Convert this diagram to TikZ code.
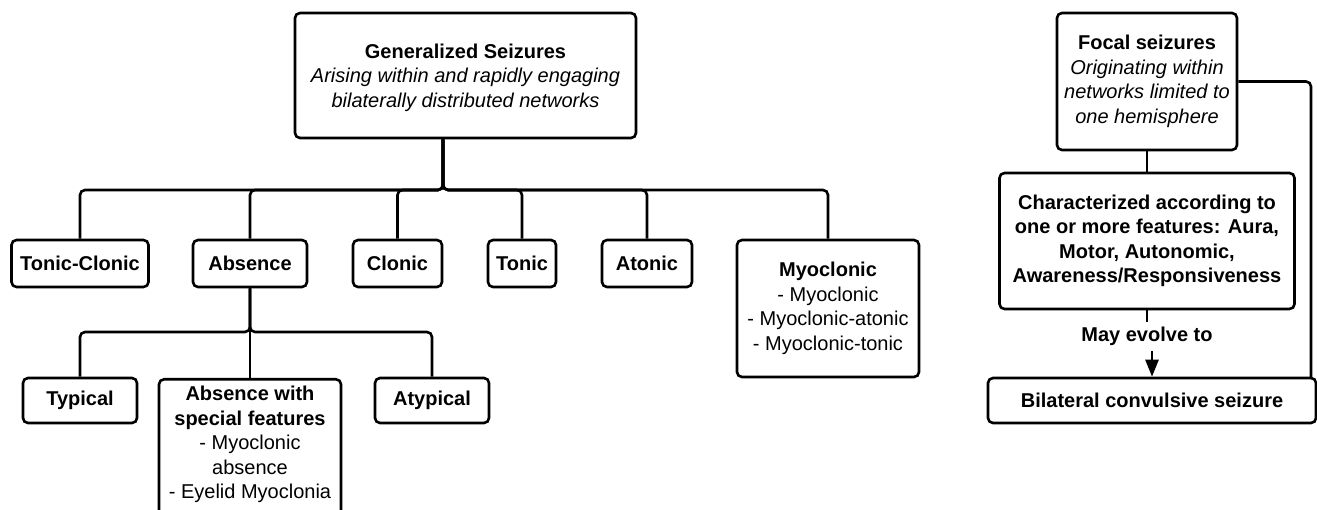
\documentclass[tikz,border=0pt]{standalone}
\usepackage{fontspec}
\setmainfont{Liberation Sans}
\usetikzlibrary{arrows.meta}
\begin{document}
\begin{tikzpicture}[x=1pt,y=-1pt,
  box/.style={draw, line width=2.6pt, rounded corners=5pt, align=center, inner sep=0pt,
    font=\fontsize{20}{24.5}\selectfont},
  conn/.style={line width=2.6pt, rounded corners=5pt},
  lbl/.style={font=\fontsize{20}{24.5}\selectfont\bfseries, inner xsep=2pt, inner ysep=5pt}]
\useasboundingbox (0,0) rectangle (1317,510);
\clip (0,0) rectangle (1317,510);
% generalized
\node[box, minimum width=341pt, minimum height=125pt] (gen) at (465.5,75.5)
  {\rule{0pt}{19pt}\textbf{Generalized Seizures}\\\textit{Arising within and rapidly engaging}\\\textit{bilaterally distributed networks}};
\node[box, minimum width=137pt, minimum height=47pt] (tc) at (80,263.5) {\textbf{Tonic-Clonic}};
\node[box, minimum width=114pt, minimum height=47pt] (abs) at (250,263.5) {\textbf{Absence}};
\node[box, minimum width=89pt, minimum height=47pt] (clo) at (397.5,263.5) {\textbf{Clonic}};
\node[box, minimum width=68pt, minimum height=47pt] (ton) at (522,263.5) {\textbf{Tonic}};
\node[box, minimum width=90pt, minimum height=47pt] (ato) at (647,263.5) {\textbf{Atonic}};
\node[box, minimum width=182pt, minimum height=137pt] (myo) at (828,308.5)
  {\textbf{Myoclonic}\\- Myoclonic\\- Myoclonic-atonic\\- Myoclonic-tonic};
\node[box, minimum width=114pt, minimum height=45pt] (typ) at (80,400.5) {\textbf{Typical}};
\node[box, minimum width=182pt, anchor=north, inner ysep=7pt] (spec) at (250,378)
  {\textbf{Absence with}\\\textbf{special features}\\- Myoclonic\\absence\\- Eyelid Myoclonia\\~\\~};
\node[box, minimum width=114pt, minimum height=45pt] (aty) at (432,400.5) {\textbf{Atypical}};
% connectors
\coordinate (gj) at (443,190);
\foreach \c in {tc,abs,clo,ton,ato,myo}
  \draw[conn] (gen.south -| gj) -- (gj) -| (\c.north);
\coordinate (aj) at (250,332);
\foreach \c in {typ,aty}
  \draw[conn] (abs.south) -- (aj) -| (\c.north);
\draw[conn] (abs.south) -- (spec.north);
% focal
\node[box, minimum width=180pt, minimum height=137pt] (focal) at (1147,81.5)
  {\textbf{Focal seizures}\\\textit{Originating within}\\\textit{networks limited to}\\\textit{one hemisphere}};
\node[box, minimum width=295pt, minimum height=136pt] (char) at (1147,241)
  {\textbf{Characterized according to}\\\textbf{one or more features: Aura,}\\\textbf{Motor, Autonomic,}\\\textbf{Awareness/Responsiveness}};
\node[lbl] (may) at (1147,336.5) {May evolve to};
\node[box, minimum width=328pt, minimum height=45pt] (bil) at (1152,400.5) {\textbf{Bilateral convulsive seizure}};
\coordinate (rc) at (1311,378);
\draw[conn] (focal.south) -- (char.north);
\draw[conn] (char.south) -- (may.north);
\draw[conn, -{Triangle[width=13pt,length=17pt]}] (may.south -| bil.north) -- (bil.north);
\draw[conn] (focal.east) -| (rc);
\end{tikzpicture}
\end{document}
